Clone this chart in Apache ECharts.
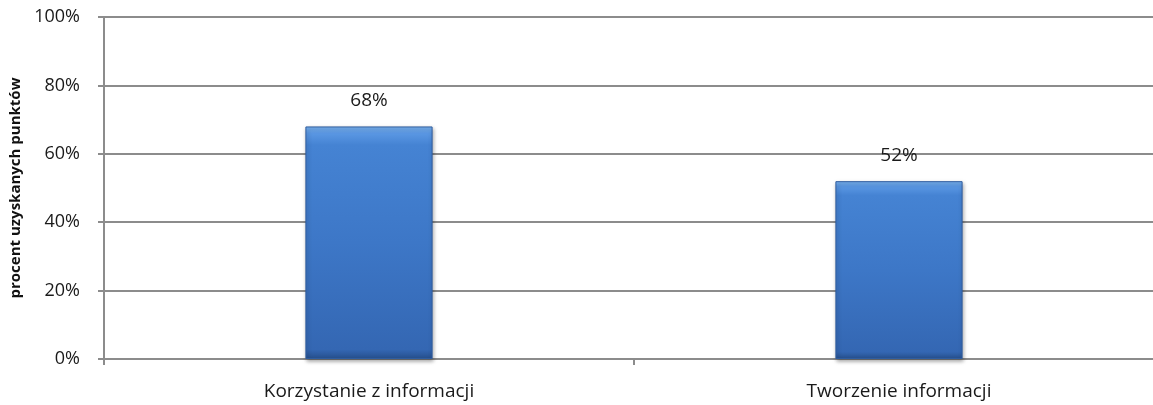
<!DOCTYPE html>
<html>
<head>
<meta charset="utf-8">
<script src="https://cdn.jsdelivr.net/npm/echarts@6/dist/echarts.min.js"></script>
<style>
  html, body { margin: 0; padding: 0; background: #fff; }
  #chart { width: 1153px; height: 405px; }
</style>
</head>
<body>
<div id="chart"></div>
<script>
const categories = ['Korzystanie z informacji', 'Tworzenie informacji'];
const values = [68, 52];
const yTicks = [0, 20, 40, 60, 80, 100];

const font = '"Open Sans", "Noto Sans", sans-serif';
const chart = echarts.init(document.getElementById('chart'));

chart.setOption({
  animation: false,
  // plot area runs past the right edge of the canvas, as in the original
  grid: { left: 104, width: 1060, top: 17, bottom: 46, outerBoundsMode: 'none', containLabel: false },
  xAxis: {
    type: 'category',
    data: categories,
    axisLine: { lineStyle: { color: '#8c8c8c', width: 2 } },
    axisTick: { show: true, length: 6, inside: false, lineStyle: { color: '#8c8c8c', width: 2 } },
    axisLabel: { color: '#1a1a1a', fontFamily: font, fontSize: 19, margin: 23 }
  },
  yAxis: {
    type: 'value',
    min: yTicks[0],
    max: yTicks[yTicks.length - 1],
    interval: 20,
    name: 'procent uzyskanych punktów',
    nameLocation: 'middle',
    nameGap: 78,
    nameTextStyle: { color: '#111', fontFamily: font, fontSize: 15, fontWeight: 'bold' },
    axisLine: { show: true, lineStyle: { color: '#8c8c8c', width: 2 } },
    axisTick: { show: true, length: 6, lineStyle: { color: '#8c8c8c', width: 2 } },
    splitLine: { lineStyle: { color: '#8c8c8c', width: 2 } },
    axisLabel: { color: '#1a1a1a', fontFamily: font, fontSize: 18, margin: 24, formatter: '{value}%' }
  },
  series: [{
    type: 'bar',
    data: values,
    barWidth: '24%',
    itemStyle: {
      color: new echarts.graphic.LinearGradient(0, 0, 0, 1, [
        { offset: 0, color: '#7ab3f0' },
        { offset: 0.03, color: '#5a97e3' },
        { offset: 0.08, color: '#4583d3' },
        { offset: 0.5, color: '#3d77c7' },
        { offset: 0.96, color: '#3467b3' },
        { offset: 1, color: '#264f8c' }
      ]),
      borderColor: '#2f5d9f',
      borderWidth: 1,
      shadowColor: 'rgba(0,0,0,0.35)',
      shadowBlur: 4,
      shadowOffsetX: 1,
      shadowOffsetY: 2
    },
    label: {
      show: true,
      position: 'top',
      distance: 16,
      color: '#1a1a1a',
      fontFamily: font,
      fontSize: 19,
      formatter: '{c}%'
    }
  }]
});
</script>
</body>
</html>
